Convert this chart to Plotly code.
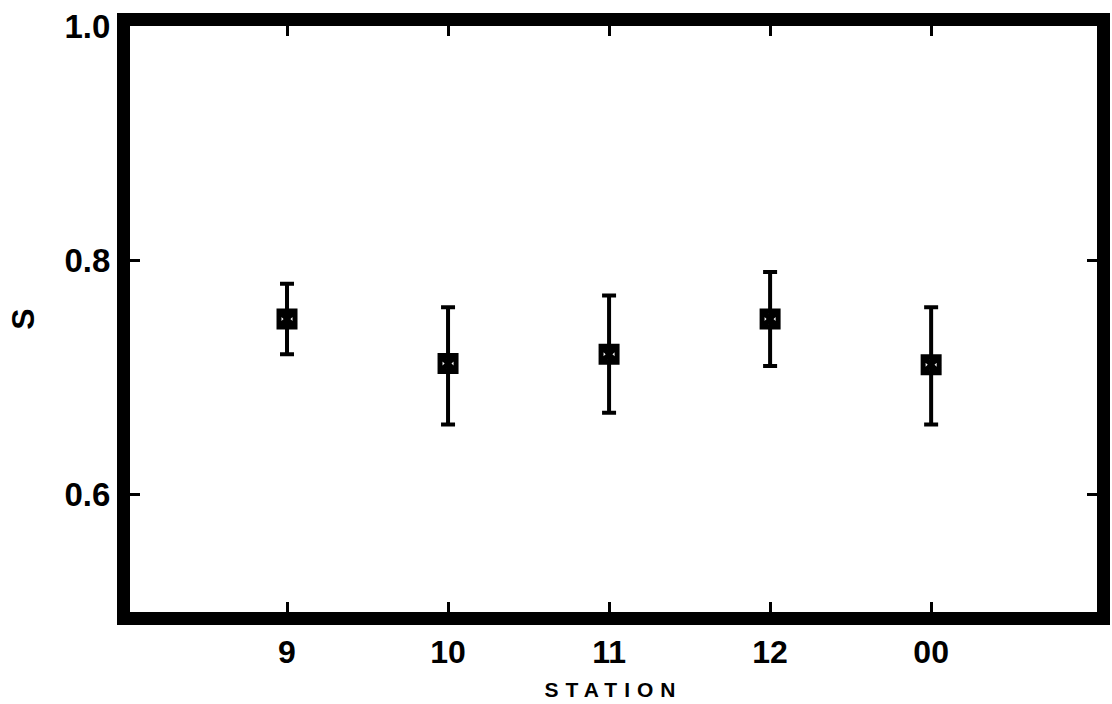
import plotly.graph_objects as go

stations = ["9", "10", "11", "12", "00"]
s_values = [0.750, 0.712, 0.720, 0.750, 0.711]
s_upper = [0.780, 0.760, 0.770, 0.790, 0.760]
s_lower = [0.720, 0.660, 0.670, 0.710, 0.660]
y_ticks = [0.6, 0.8, 1.0]
y_ticktext = ["0.6", "0.8", "1.0"]

xpos = list(range(len(stations)))
err_plus = [u - v for u, v in zip(s_upper, s_values)]
err_minus = [v - l for v, l in zip(s_values, s_lower)]

FONT = "Liberation Sans, Arial, Helvetica, sans-serif"

fig = go.Figure()
fig.add_trace(go.Scatter(
    x=xpos, y=s_values, mode="markers",
    marker=dict(symbol="square-x-open", size=16, color="black",
                line=dict(width=5, color="black")),
    error_y=dict(type="data", symmetric=False, array=err_plus,
                 arrayminus=err_minus, color="black", thickness=4, width=7),
    showlegend=False,
))

fig.update_layout(
    width=1112, height=704,
    margin=dict(l=130, r=15, t=26, b=92),
    paper_bgcolor="white", plot_bgcolor="white",
    xaxis=dict(
        automargin=False,
        range=[-0.975, 5.03],
        tickmode="array", tickvals=xpos, ticktext=stations,
        ticks="inside", ticklen=10, tickwidth=3, tickcolor="black",
        showline=True, linewidth=13, linecolor="black", mirror="ticks",
        showgrid=False, zeroline=False,
        tickfont=dict(family=FONT, size=32, color="black", weight="bold"),
        title=dict(text="STATION", standoff=18,
                   font=dict(family=FONT, size=21, color="black", weight="bold")),
    ),
    yaxis=dict(
        automargin=False,
        range=[0.5, 1.0],
        tickmode="array", tickvals=y_ticks, ticktext=y_ticktext,
        ticks="inside", ticklen=10, tickwidth=3, tickcolor="black",
        showline=True, linewidth=13, linecolor="black", mirror="ticks",
        showgrid=False, zeroline=False,
        tickfont=dict(family=FONT, size=33, color="black", weight="bold"),
        title=dict(text="S", standoff=26,
                   font=dict(family=FONT, size=32, color="black", weight="bold")),
    ),
)

post = """
document.body.style.margin = '0';
document.body.style.overflow = 'hidden';
var els = document.querySelectorAll('.xtitle');
els.forEach(function(e){ e.style.letterSpacing = '7px'; });
"""
fig.write_html("out.html", post_script=post, config={"displayModeBar": False})
